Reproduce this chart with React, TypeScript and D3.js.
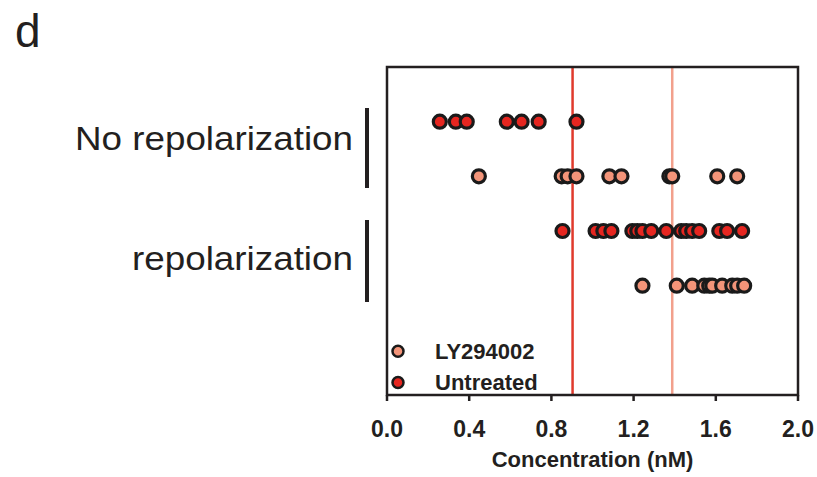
import React from "react";
import { scaleLinear } from "d3";

const svgWidth = 817;
const svgHeight = 477;
const box = { left: 387, right: 798, top: 67, bottom: 395 };
const font = "'Liberation Sans', Arial, Helvetica, sans-serif";
const ink = "#231f20";

const untreatedColor = "#e62620";
const lyColor = "#f39479";

// rows top to bottom, each one condition
const rowLabels = ["No repolarization", "repolarization"];
const noRepolUntreated = [0.257, 0.335, 0.388, 0.583, 0.655, 0.738, 0.922];
const noRepolLY = [0.447, 0.85, 0.879, 0.922, 1.082, 1.141, 1.374, 1.388, 1.607, 1.704];
const repolUntreated = [
  0.854, 1.015, 1.053, 1.092, 1.194, 1.218, 1.243, 1.286, 1.359, 1.432, 1.456,
  1.485, 1.519, 1.617, 1.655, 1.728,
];
const repolLY = [1.243, 1.41, 1.485, 1.544, 1.568, 1.583, 1.631, 1.68, 1.704, 1.738];
const untreatedThreshold = 0.903;
const lyThreshold = 1.388;
const xTicks = [0, 0.4, 0.8, 1.2, 1.6, 2.0];

const rows = [
  { values: noRepolUntreated, color: untreatedColor, pos: 1 },
  { values: noRepolLY, color: lyColor, pos: 2 },
  { values: repolUntreated, color: untreatedColor, pos: 3 },
  { values: repolLY, color: lyColor, pos: 4 },
];
const legend = [
  { name: "LY294002", color: lyColor, pos: 5.2 },
  { name: "Untreated", color: untreatedColor, pos: 5.77 },
];

export default function App() {
  const xScale = scaleLinear().domain([0, 2]).range([box.left, box.right]);
  const yScale = scaleLinear().domain([0, 6]).range([box.top, box.bottom]);

  return (
    <svg
      width={svgWidth}
      height={svgHeight}
      style={{ position: "absolute", left: 0, top: 0, background: "#fff" }}
      fontFamily={font}
    >
      <text x={15} y={47} fontSize={46} fill={ink}>
        d
      </text>

      {/* group labels and brackets */}
      <text x={353} y={150} fontSize={34} fill={ink} textAnchor="end" textLength={278} lengthAdjust="spacingAndGlyphs">
        {rowLabels[0]}
      </text>
      <line x1={367} x2={367} y1={108} y2={188} stroke={ink} strokeWidth={4} />
      <text x={353} y={270} fontSize={34} fill={ink} textAnchor="end" textLength={221} lengthAdjust="spacingAndGlyphs">
        {rowLabels[1]}
      </text>
      <line x1={367} x2={367} y1={220} y2={302} stroke={ink} strokeWidth={4} />

      {/* threshold lines */}
      <line
        x1={xScale(untreatedThreshold)}
        x2={xScale(untreatedThreshold)}
        y1={box.top}
        y2={box.bottom}
        stroke="#e03a2c"
        strokeWidth={2.5}
      />
      <line
        x1={xScale(lyThreshold)}
        x2={xScale(lyThreshold)}
        y1={box.top}
        y2={box.bottom}
        stroke="#f2a08c"
        strokeWidth={2.5}
      />

      {rows.map((row, i) =>
        row.values.map((v, j) => (
          <circle
            key={`p-${i}-${j}`}
            cx={xScale(v)}
            cy={yScale(row.pos)}
            r={6.5}
            fill={row.color}
            stroke="#1a1a1a"
            strokeWidth={3.2}
          />
        ))
      )}

      {legend.map((l) => (
        <g key={l.name} transform={`translate(398,${yScale(l.pos)})`}>
          <circle r={5.5} fill={l.color} stroke="#1a1a1a" strokeWidth={2.5} />
          <text x={37} y={8} fontSize={22} fontWeight="bold" fill={ink}>
            {l.name}
          </text>
        </g>
      ))}

      {/* frame */}
      <rect
        x={box.left}
        y={box.top}
        width={box.right - box.left}
        height={box.bottom - box.top}
        fill="none"
        stroke={ink}
        strokeWidth={2.5}
      />

      {xTicks.map((t) => (
        <g key={`x-${t}`} transform={`translate(${xScale(t)},${box.bottom})`}>
          <line y2={6} stroke={ink} strokeWidth={2.5} />
          <text y={42} fontSize={23} fontWeight="bold" fill={ink} textAnchor="middle">
            {t.toFixed(1)}
          </text>
        </g>
      ))}
      <text
        x={(box.left + box.right) / 2}
        y={467}
        fontSize={22}
        fontWeight="bold"
        fill={ink}
        textAnchor="middle"
      >
        Concentration (nM)
      </text>
    </svg>
  );
}
